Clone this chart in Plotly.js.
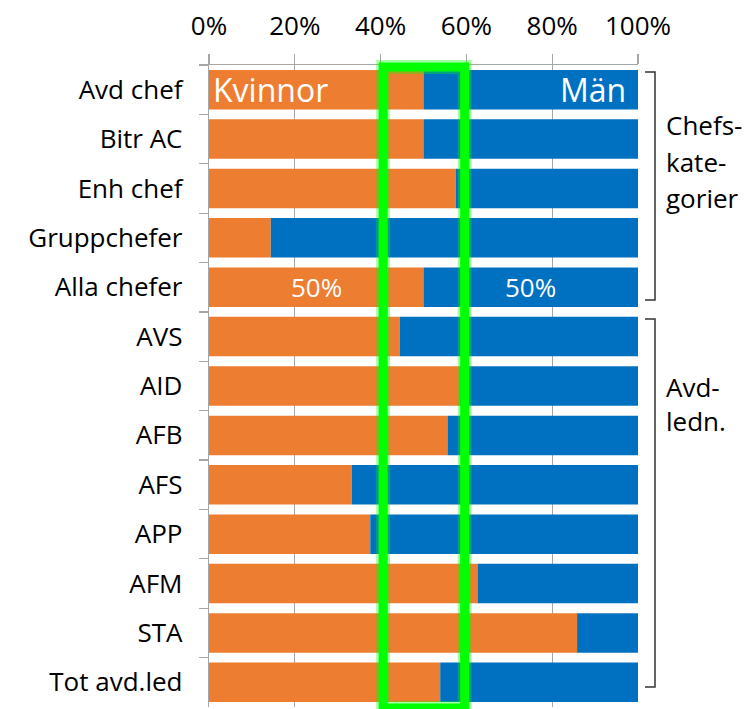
<!DOCTYPE html>
<html>
<head>
<meta charset="utf-8">
<script src="https://cdn.plot.ly/plotly-3.0.1.min.js"></script>
<style>html,body{margin:0;padding:0;background:#fff;}#chart{width:746px;height:709px;}</style>
</head>
<body>
<div id="chart"></div>
<script>
const categories = ["Avd chef","Bitr AC","Enh chef","Gruppchefer","Alla chefer","AVS","AID","AFB","AFS","APP","AFM","STA","Tot avd.led"];
const kvinnor = [50, 50, 57.5, 14.4, 50, 44.5, 58.4, 55.6, 33.3, 37.6, 62.6, 85.8, 53.9];
const man = kvinnor.map(v => 100 - v);
const seriesNames = ["Kvinnor","Män"];
const xTickVals = [0, 20, 40, 60, 80, 100];
const xTickText = ["0%", "20%", "40%", "60%", "80%", "100%"];
const groupLabel1 = ["Chefs-","kate-","gorier"];
const groupLabel2 = ["Avd-","ledn."];
const labelRow = "Alla chefer";
const targetBand = [40.6, 59.6];

const font = "Open Sans, sans-serif";
const orange = "#ED7D31", blue = "#0070C0", grid = "#a6a6a6";

const traces = [
  {type:"bar", orientation:"h", name:seriesNames[0], y:categories, x:kvinnor, marker:{color:orange}, hoverinfo:"x+y"},
  {type:"bar", orientation:"h", name:seriesNames[1], y:categories, x:man, base:kvinnor, marker:{color:blue}, hoverinfo:"x+y"}
];

const ri = categories.indexOf(labelRow);
const annotations = [
  {x:0, y:categories[0], xref:"x", yref:"y", text:seriesNames[0], showarrow:false, xanchor:"left", xshift:2, font:{family:font, size:32, color:"#fff"}},
  {x:100, y:categories[0], xref:"x", yref:"y", text:seriesNames[1], showarrow:false, xanchor:"right", xshift:-10, font:{family:font, size:32, color:"#fff"}},
  {x:kvinnor[ri]/2, y:labelRow, xref:"x", yref:"y", text:Math.round(kvinnor[ri])+"%", showarrow:false, font:{family:font, size:26, color:"#fff"}},
  {x:kvinnor[ri]+man[ri]/2, y:labelRow, xref:"x", yref:"y", text:Math.round(man[ri])+"%", showarrow:false, font:{family:font, size:26, color:"#fff"}}
];
// group labels to the right (paper coords: plot spans px 209..638, 65..707)
const px = v => (v - 209) / 429, py = v => (707 - v) / 642;
groupLabel1.forEach((t,i)=>annotations.push({x:px(664), y:py(125 + i*36.5), xref:"paper", yref:"paper", text:t, showarrow:false, xanchor:"left", yanchor:"middle", font:{family:font, size:26, color:"#000"}}));
groupLabel2.forEach((t,i)=>annotations.push({x:px(664), y:py(387 + i*34), xref:"paper", yref:"paper", text:t, showarrow:false, xanchor:"left", yanchor:"middle", font:{family:font, size:26, color:"#000"}}));

const bracket = (top, bot) => ({type:"path", xref:"paper", yref:"paper",
  path:`M ${px(645)} ${py(top)} L ${px(655)} ${py(top)} L ${px(655)} ${py(bot)} L ${px(645)} ${py(bot)}`,
  line:{color:"#333", width:1.5}});

const shapes = [
  {type:"rect", xref:"x", yref:"paper", x0:targetBand[0], x1:targetBand[1], y0:py(708), y1:py(67), line:{color:"rgba(0,255,0,0.35)", width:14}},
  {type:"rect", xref:"x", yref:"paper", x0:targetBand[0], x1:targetBand[1], y0:py(708), y1:py(67), line:{color:"#00ff00", width:9}},
  bracket(72, 300),
  bracket(319, 687)
];

const layout = {
  width:746, height:709,
  margin:{l:209, r:108, t:65, b:2},
  paper_bgcolor:"#fff", plot_bgcolor:"#fff",
  barmode:"overlay", bargap:0.2, showlegend:false,
  font:{family:font, color:"#000"},
  xaxis:{side:"top", range:[0,100], tickmode:"array", tickvals:xTickVals, ticktext:xTickText, showgrid:true, gridcolor:grid, gridwidth:1.3,
         showline:true, linecolor:grid, linewidth:1.3, ticks:"outside", ticklen:10, tickcolor:grid, tickwidth:1.3,
         tickfont:{family:font, size:26, color:"#000"}, ticklabelstandoff:8, zeroline:false, fixedrange:true},
  yaxis:{type:"category", categoryorder:"array", categoryarray:categories, autorange:"reversed",
         showline:true, linecolor:grid, linewidth:1.3, ticks:"outside", ticklen:9, tickcolor:grid, tickwidth:1.3, tickson:"boundaries",
         showgrid:false, tickfont:{family:font, size:26, color:"#000"}, ticklabelstandoff:20, fixedrange:true},
  annotations, shapes
};

Plotly.newPlot("chart", traces, layout, {displayModeBar:false, staticPlot:true});
</script>
</body>
</html>
